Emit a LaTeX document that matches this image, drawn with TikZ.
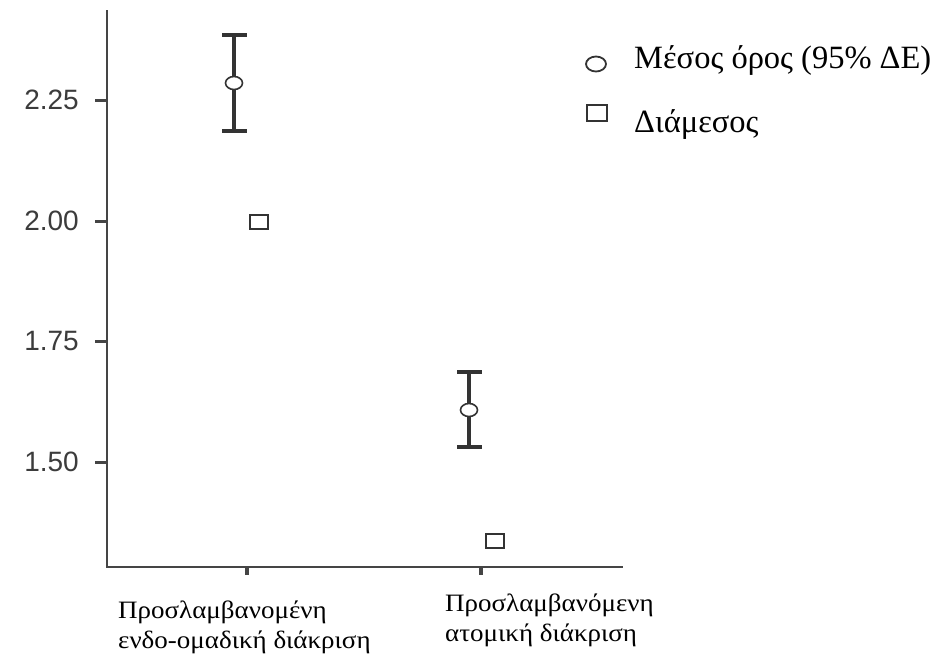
\documentclass[tikz,border=0pt]{standalone}
\usepackage{fontspec}
\usetikzlibrary{shapes.geometric}
\setmainfont{Liberation Serif}
\newfontfamily\axisfont{Liberation Sans}
\newfontfamily\catfont[FakeStretch=1.08]{Liberation Serif}
\definecolor{axisgray}{HTML}{454545}
\definecolor{bargray}{HTML}{333333}
\definecolor{ticktext}{HTML}{3C3C3C}
\begin{document}
\begin{tikzpicture}[x=1pt,y=-1pt,
  axisline/.style={line width=2.2pt, draw=axisgray},
  tickline/.style={line width=3pt, draw=axisgray},
  ticklabel/.style={anchor=east, inner sep=0pt, text=ticktext, font=\axisfont\fontsize{28}{30}\selectfont},
  barline/.style={line width=4pt, draw=bargray},
  meanmark/.style={ellipse, draw=bargray, fill=white, line width=1.6pt, minimum width=17pt, minimum height=13pt, inner sep=0pt},
  medianmark/.style={rectangle, draw=bargray, fill=white, line width=2pt, minimum width=18pt, minimum height=14pt, inner sep=0pt},
  catlabel/.style={anchor=base west, align=left, inner sep=0pt, font=\catfont\fontsize{25}{30}\selectfont},
  legtext/.style={anchor=base west, inner sep=0pt, font=\fontsize{32.5}{34}\selectfont}]
\useasboundingbox[fill=white] (0,0) rectangle (935,657);
% axes
\coordinate (ytop) at (107,10);
\coordinate (origin) at (107,567);
\coordinate (xend) at (623,567);
\draw[axisline] (ytop) -- (origin) -- (xend);
% y ticks and labels
\foreach \yy/\lab [count=\i] in {100/2.25, 221/2.00, 341/1.75, 462/1.50}{
  \coordinate (yt\i) at (95,\yy);
  \coordinate (ya\i) at (107,\yy);
  \draw[tickline] (yt\i) -- (ya\i);
  \node[ticklabel] (yl\i) at (79,\yy) {\lab};
}
% x ticks
\coordinate (xa1) at (247,567); \coordinate (xb1) at (247,575);
\coordinate (xa2) at (481,567); \coordinate (xb2) at (481,575);
\draw[line width=4pt, draw=axisgray] (xa1) -- (xb1);
\draw[line width=4pt, draw=axisgray] (xa2) -- (xb2);
% error bar 1
\coordinate (t1) at (234,35); \coordinate (b1) at (234,131);
\coordinate (t1l) at (222,35); \coordinate (t1r) at (247,35);
\coordinate (b1l) at (222,131); \coordinate (b1r) at (247,131);
\draw[barline] (t1) -- (b1);
\draw[barline] (t1l) -- (t1r);
\draw[barline] (b1l) -- (b1r);
\node[meanmark] (m1) at (234,83) {};
\node[medianmark] (d1) at (259,222) {};
% error bar 2
\coordinate (t2) at (469,372); \coordinate (b2) at (469,447);
\coordinate (t2l) at (457,372); \coordinate (t2r) at (482,372);
\coordinate (b2l) at (457,447); \coordinate (b2r) at (482,447);
\draw[barline] (t2) -- (b2);
\draw[barline] (t2l) -- (t2r);
\draw[barline] (b2l) -- (b2r);
\node[meanmark] (m2) at (469,410) {};
\node[medianmark] (d2) at (495,541) {};
% category labels (anchor is the baseline of the last line)
\node[catlabel] (c1) at (118,648) {Προσλαμβανομένη\\ενδο-ομαδική διάκριση};
\node[catlabel] (c2) at (445,641) {Προσλαμβανόμενη\\ατομική διάκριση};
% legend
\node[meanmark, minimum width=20pt, minimum height=15pt, line width=1.8pt] (lm) at (596,64) {};
\node[medianmark, minimum width=20pt, minimum height=16pt] (ld) at (597,113) {};
\node[legtext] (lt1) at (634,68) {Μέσος όρος (95\% ΔΕ)};
\node[legtext] (lt2) at (634,132) {Διάμεσος};
\end{tikzpicture}
\end{document}
